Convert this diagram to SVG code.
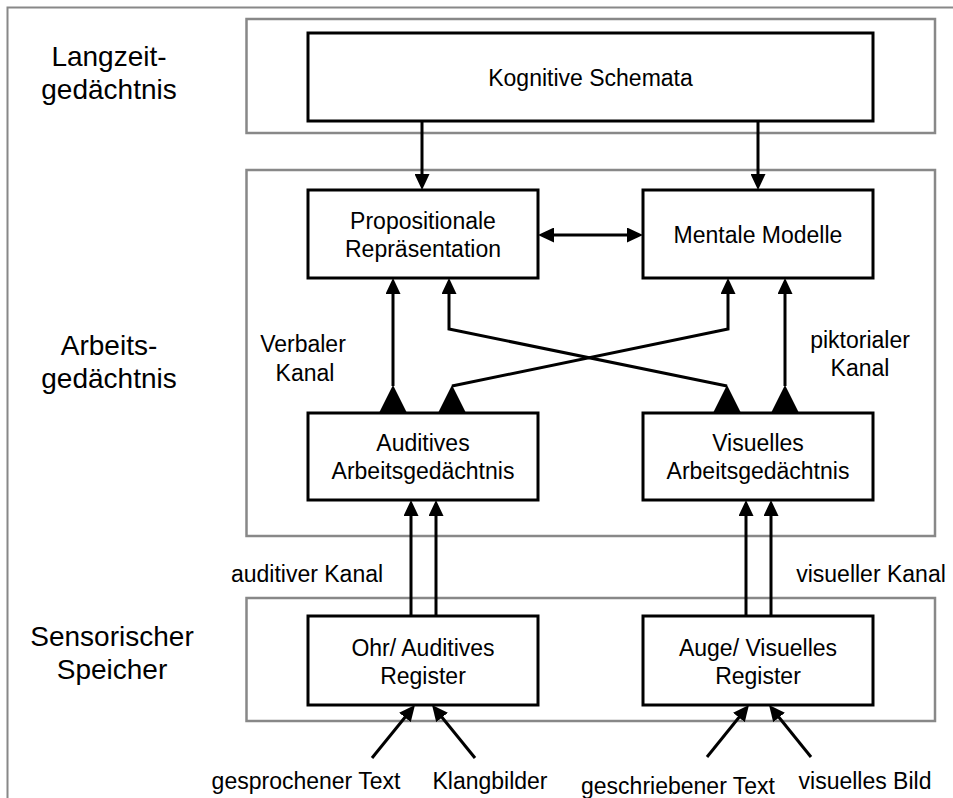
<svg xmlns="http://www.w3.org/2000/svg" xmlns:xlink="http://www.w3.org/1999/xlink" width="953" height="798" viewBox="0 0 953 798">
<style>
.frame{fill:none;stroke:#888;stroke-width:2}
.cont{fill:#fff;stroke:#888;stroke-width:2.5}
.box{fill:#fff;stroke:#000;stroke-width:3}
.t{font-family:"Liberation Sans",Arial,sans-serif;font-size:23px;fill:#000;text-anchor:middle}
.sec{font-family:"Liberation Sans",Arial,sans-serif;font-size:28px;fill:#000;text-anchor:middle}
.c{fill:none;stroke:#000;stroke-width:3}
.a{marker-end:url(#ah)}
.d{marker-start:url(#ah);marker-end:url(#ah)}
</style>
<defs>
<marker id="ah" markerUnits="userSpaceOnUse" markerWidth="16" markerHeight="15" viewBox="0 0 16 15" refX="6" refY="7.5" orient="auto-start-reverse">
<path d="M0,0 L16,7.5 L0,15 z" fill="#000"/>
</marker>
<path id="tri" d="M-14,0 L14,0 L0,-28 z" fill="#000"/>
</defs>
<rect width="953" height="798" fill="#fff"/>
<path class="frame" d="M7.5,798 V7.5 H953"/>

<g id="section-labels">
<text class="sec" x="109" y="66">Langzeit-</text>
<text class="sec" x="109" y="99">gedächtnis</text>
<text class="sec" x="109" y="355">Arbeits-</text>
<text class="sec" x="109" y="388">gedächtnis</text>
<text class="sec" x="112" y="646">Sensorischer</text>
<text class="sec" x="112" y="679">Speicher</text>
</g>

<g id="containers">
<rect class="cont" x="246.5" y="19" width="688.5" height="114"/>
<rect class="cont" x="246.5" y="170" width="688.5" height="366"/>
<rect class="cont" x="246.5" y="598" width="688.5" height="123"/>
</g>

<g id="kognitive-schemata">
<rect class="box" x="308" y="33" width="565" height="88"/>
<text class="t" x="590.5" y="86">Kognitive Schemata</text>
</g>
<g id="propositionale">
<rect class="box" x="308" y="190" width="230" height="88"/>
<text class="t" x="423" y="229">Propositionale</text>
<text class="t" x="423" y="257">Repräsentation</text>
</g>
<g id="mentale-modelle">
<rect class="box" x="643" y="190" width="230" height="88"/>
<text class="t" x="758" y="243">Mentale Modelle</text>
</g>
<g id="auditives-ag">
<rect class="box" x="308" y="413" width="230" height="87"/>
<text class="t" x="423" y="451">Auditives</text>
<text class="t" x="423" y="479">Arbeitsgedächtnis</text>
</g>
<g id="visuelles-ag">
<rect class="box" x="643" y="413" width="230" height="87"/>
<text class="t" x="758" y="451">Visuelles</text>
<text class="t" x="758" y="479">Arbeitsgedächtnis</text>
</g>
<g id="ohr">
<rect class="box" x="308" y="616" width="230" height="89"/>
<text class="t" x="423" y="656">Ohr/ Auditives</text>
<text class="t" x="423" y="684">Register</text>
</g>
<g id="auge">
<rect class="box" x="643" y="616" width="230" height="89"/>
<text class="t" x="758" y="656">Auge/ Visuelles</text>
<text class="t" x="758" y="684">Register</text>
</g>

<g id="connectors">
<path class="c a" d="M422,121 V180"/>
<path class="c a" d="M758,121 V180"/>
<path class="c d" d="M548,235 H633"/>
<path class="c a" d="M393,386 V288"/>
<path class="c a" d="M452,386 L728,329 V288"/>
<path class="c a" d="M727,386 L449,329 V288"/>
<path class="c a" d="M785,386 V288"/>
<use xlink:href="#tri" x="393" y="413"/>
<use xlink:href="#tri" x="452" y="413"/>
<use xlink:href="#tri" x="727" y="413"/>
<use xlink:href="#tri" x="785" y="413"/>
<path class="c a" d="M411,616 V510"/>
<path class="c a" d="M436,616 V510"/>
<path class="c a" d="M746,616 V510"/>
<path class="c a" d="M771,616 V510"/>
<path class="c a" d="M372,758 L408.7,712.8"/>
<path class="c a" d="M475,758 L438.3,712.8"/>
<path class="c a" d="M707,757 L742.7,712.8"/>
<path class="c a" d="M811,757 L775.3,712.8"/>
</g>

<g id="edge-labels">
<text class="t" x="303" y="352">Verbaler</text>
<text class="t" x="305" y="381">Kanal</text>
<text class="t" x="860" y="348">piktorialer</text>
<text class="t" x="860" y="376">Kanal</text>
<text class="t" x="307" y="582">auditiver Kanal</text>
<text class="t" x="871" y="582">visueller Kanal</text>
<text class="t" x="306" y="789">gesprochener Text</text>
<text class="t" x="490" y="789">Klangbilder</text>
<text class="t" x="678" y="794">geschriebener Text</text>
<text class="t" x="865" y="789">visuelles Bild</text>
</g>
</svg>
